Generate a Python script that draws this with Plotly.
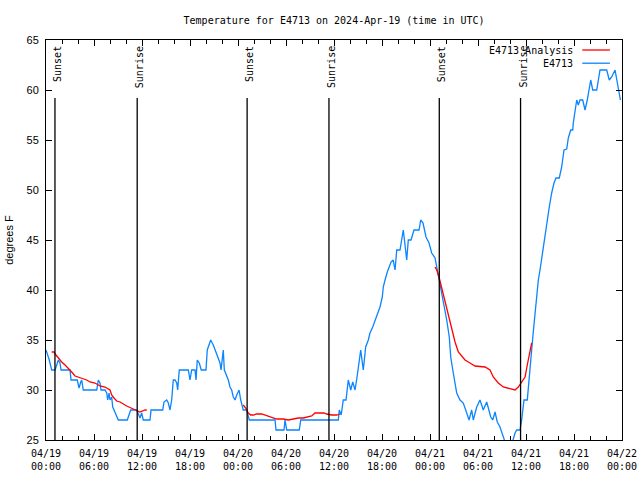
import pandas as pd
import plotly.graph_objects as go

BASE = pd.Timestamp("2024-04-19 00:00")

# Observed temperature (hours since 2024-04-19 00:00 UTC, degrees F)
obs_hours = [0.0, 0.41, 0.71, 1.13, 1.34, 1.54, 1.75, 1.88, 3.0, 3.13, 3.91, 4.13, 4.34, 4.46, 4.66,
             6.34, 6.54, 6.75, 6.88, 7.38, 7.59, 7.71, 7.88, 8.0, 8.21, 8.34, 8.5, 8.75, 9.04, 10.16,
             10.41, 10.59, 11.34, 11.75, 11.96, 12.16, 13.0, 13.13, 14.59, 14.75, 15.09, 15.29, 15.5,
             15.71, 15.91, 16.13, 16.34, 16.46, 16.66, 17.79, 18.0, 18.21, 18.63, 18.75, 18.91, 19.16,
             19.41, 20.0, 20.16, 20.59, 20.91, 21.21, 21.54, 21.75, 21.88, 22.09, 22.16, 22.29, 22.46,
             22.79, 23.0, 23.21, 23.41, 23.63, 23.84, 24.13, 24.34, 24.66, 25.09, 25.29, 25.41, 28.63,
             28.75, 29.75, 29.88, 30.09, 31.66, 31.84, 36.54, 36.66, 36.9, 37.16, 37.5, 37.79, 38.09,
             38.34, 38.63, 38.88, 39.04, 39.34, 39.66, 39.96, 40.29, 40.5, 40.84, 41.34, 41.75, 42.04,
             42.16, 42.38, 42.66, 43.13, 43.4, 43.63, 43.84, 44.25, 44.46, 44.66, 45.09, 45.29, 45.63,
             46.0, 46.63, 46.84, 47.13, 47.5, 47.88, 48.21, 48.63, 48.84, 49.04, 49.31, 49.59, 49.88,
             50.09, 50.41, 50.59, 50.91, 51.13, 51.34, 51.75, 52.16, 52.59, 52.88, 53.21, 53.41, 53.84,
             54.25, 54.66, 55.09, 55.59, 55.84, 56.13, 56.41, 56.75, 57.16, 57.38, 57.75, 58.13, 58.38,
             58.63, 58.84, 59.25, 59.46, 59.59, 59.75, 60.16, 60.41, 60.71, 60.91, 61.13, 61.34, 61.54,
             61.75, 62.09, 62.38, 62.59, 62.91, 63.21, 63.5, 63.75, 64.16, 64.46, 64.75, 65.09, 65.29,
             65.59, 65.84, 65.91, 66.13, 66.34, 66.54, 66.75, 67.09, 67.38, 67.66, 67.91, 68.09, 68.34,
             68.84, 69.25, 70.09, 70.41, 70.71, 71.13, 71.34, 71.66, 71.8]
obs_temps = [34, 33, 32, 32, 32.5, 33, 32.7, 32, 32, 31, 31, 30.2, 30.8, 31, 30,
             30, 31, 30.7, 30, 30, 29.7, 29, 29.7, 29, 29.3, 28.3, 28, 27.5, 27, 27,
             27.7, 28, 28, 27.2, 27.7, 27, 27, 28, 28, 28.8, 29, 28.7, 28,
             29, 31, 31, 30.7, 30, 32, 32, 31, 32, 32, 31, 33, 32.7,
             32, 32, 34, 35, 34.5, 33.8, 33, 32.7, 32, 33.7, 34, 32, 31.7,
             31, 30.3, 30, 29.3, 29, 29.5, 30, 29, 28, 28, 27.5, 27, 27,
             26, 26, 27, 26, 26, 27, 27, 28, 27.5, 29, 29, 31, 30,
             30.8, 30, 31.3, 32.3, 34, 32, 34.3, 35, 35.7, 36.3, 37.3, 38.3, 39.3,
             40.3, 41, 41.8, 42.8, 43, 42, 44, 44, 45, 46, 43, 45, 45,
             46, 46, 47, 46.7, 45.3, 44.7, 43.7, 43.2, 42.3, 41.3, 40.3, 39.3, 38,
             37, 35.3, 33.3, 31.7, 30.7, 29.7, 29, 28.7, 27.7, 27, 28, 27, 28.3,
             29, 28, 28.8, 27.3, 27, 27.8, 26.8, 26.3, 25.3, 24.8, 24.2, 24.2, 25,
             25.7, 26, 26, 27, 28.3, 29, 29, 31.7, 34, 35.8, 37.8, 39.5, 41,
             42, 44, 45.3, 46.7, 48.3, 49.7, 50.7, 51.2, 51.2, 52.3, 54, 54.1, 55.2,
             56, 56, 56.7, 58, 59, 58.5, 59, 59, 58, 59, 60, 61, 60,
             60, 62, 62, 61, 61.3, 62, 61, 59.5, 59]

# Analysis (three night-time segments)
ana1_hours = [0.71, 1.0, 1.25, 1.54, 1.96, 2.38, 2.79, 3.21, 3.63, 4.04, 4.46, 5.09, 5.5, 6.13, 6.75,
              7.38, 8.0, 8.21, 8.5, 8.84, 9.25, 10.09, 10.91, 11.75, 12.38, 12.59]
ana1_temps = [33.8, 33.8, 33.5, 33.2, 32.8, 32.5, 32.2, 31.8, 31.4, 31.3, 31.2, 31, 30.8, 30.7, 30.4,
              30.3, 30, 29.5, 29.2, 28.9, 28.8, 28.4, 28.1, 27.8, 28, 28]
ana2_hours = [24.66, 24.96, 25.29, 25.59, 25.91, 26.34, 26.96, 27.38, 27.79, 28.41, 28.84, 29.66, 30.29,
              30.91, 31.54, 32.16, 32.79, 33.21, 33.63, 34.25, 34.75, 35.09, 35.71, 36.34, 36.75]
ana2_temps = [28.5, 28.2, 27.7, 27.5, 27.5, 27.6, 27.6, 27.5, 27.4, 27.2, 27.1, 27.1, 27,
              27.1, 27.2, 27.2, 27.3, 27.4, 27.7, 27.7, 27.7, 27.6, 27.5, 27.5, 27.6]
ana3_hours = [48.63, 48.84, 49.16, 49.46, 49.88, 50.29, 50.71, 51.13, 51.54, 51.96, 52.38, 53.0, 53.63,
              54.88, 55.5, 55.91, 56.54, 57.16, 57.79, 58.63, 59.04, 59.46, 59.88, 60.16, 60.5, 60.71]
ana3_temps = [42.3, 42, 41.2, 40.2, 38.9, 37.3, 36.1, 34.8, 33.8, 33.4, 33, 32.7, 32.4,
              32.3, 32, 31.3, 30.7, 30.3, 30.2, 30, 30.3, 30.8, 31.3, 32.5, 34, 34.7]

sun_hours = [1.12, 11.40, 25.14, 35.37, 49.16, 59.32]
sun_labels = ["Sunset", "Sunrise", "Sunset", "Sunrise", "Sunset", "Sunrise"]

tick_hours = list(range(0, 73, 6))
tick_text = ["04/19<br>00:00", "04/19<br>06:00", "04/19<br>12:00", "04/19<br>18:00",
             "04/20<br>00:00", "04/20<br>06:00", "04/20<br>12:00", "04/20<br>18:00",
             "04/21<br>00:00", "04/21<br>06:00", "04/21<br>12:00", "04/21<br>18:00",
             "04/22<br>00:00"]

TITLE = "Temperature for E4713 on 2024-Apr-19 (time in UTC)"
MONO = "DejaVu Sans Mono"
SANS = "Liberation Sans"
RED = "#ff0000"
BLUE = "#0a84ff"


def to_time(hours):
    return [BASE + pd.Timedelta(hours=h) for h in hours]


ana_x = to_time(ana1_hours) + [None] + to_time(ana2_hours) + [None] + to_time(ana3_hours)
ana_y = ana1_temps + [None] + ana2_temps + [None] + ana3_temps

fig = go.Figure()
fig.add_trace(go.Scatter(x=to_time(obs_hours), y=obs_temps, mode="lines",
                         line=dict(color=BLUE, width=1.3), name="E4713", showlegend=False))
fig.add_trace(go.Scatter(x=ana_x, y=ana_y, mode="lines", connectgaps=False,
                         line=dict(color=RED, width=1.3), name="E4713 Analysis", showlegend=False))

for h, lab in zip(sun_hours, sun_labels):
    t = BASE + pd.Timedelta(hours=h)
    fig.add_shape(type="line", xref="x", yref="paper", x0=t, x1=t, y0=0, y1=0.855,
                  line=dict(color="black", width=1.3))
    fig.add_annotation(x=t, y=1, xref="x", yref="paper", text=lab, textangle=-90,
                       showarrow=False, xanchor="center", yanchor="top", yshift=-4, xshift=2,
                       font=dict(family=MONO, size=10, color="black"))

# legend drawn gnuplot-style (text, then sample line)
for i, (name, col) in enumerate([("E4713 Analysis", RED), ("E4713", BLUE)]):
    yp = 0.975 - i * 0.033
    fig.add_annotation(x=0.918, y=yp, xref="paper", yref="paper", text=name, showarrow=False,
                       xanchor="right", yanchor="middle", font=dict(family=MONO, size=10, color="black"))
    fig.add_shape(type="line", xref="paper", yref="paper", x0=0.931, x1=0.979, y0=yp, y1=yp,
                  line=dict(color=col, width=1.3))

fig.update_layout(
    width=640, height=480,
    margin=dict(l=46, r=18, t=40, b=40, autoexpand=False),
    paper_bgcolor="white", plot_bgcolor="white",
    title=dict(text=TITLE, x=0.522, xanchor="center", y=0.958, yanchor="middle",
               font=dict(family=MONO, size=10, color="black")),
    showlegend=False,
)
fig.update_xaxes(
    range=[BASE, BASE + pd.Timedelta(hours=72)], automargin=False,
    tickvals=to_time(tick_hours), ticktext=tick_text,
    ticks="inside", ticklen=6, tickcolor="black", tickwidth=1,
    minor=dict(tickmode="linear", tick0=BASE, dtick=2 * 3600 * 1000, ticks="inside",
               ticklen=4, tickcolor="black"),
    showline=True, linecolor="black", linewidth=1, mirror="ticks",
    showgrid=False, zeroline=False, ticklabelstandoff=4,
    tickfont=dict(family=MONO, size=10, color="black"),
)
fig.update_yaxes(
    range=[25, 65], tickmode="linear", tick0=25, dtick=5, automargin=False,
    ticks="inside", ticklen=6, tickcolor="black",
    showline=True, linecolor="black", linewidth=1, mirror="ticks",
    showgrid=False, zeroline=False, ticklabelstandoff=4,
    tickfont=dict(family=SANS, size=11, color="black"),
    title=dict(text="degrees F", font=dict(family=SANS, size=11, color="black"), standoff=10),
)

fig.write_html("out.html", config={"displayModeBar": False},
               post_script="document.body.style.margin='0';")
